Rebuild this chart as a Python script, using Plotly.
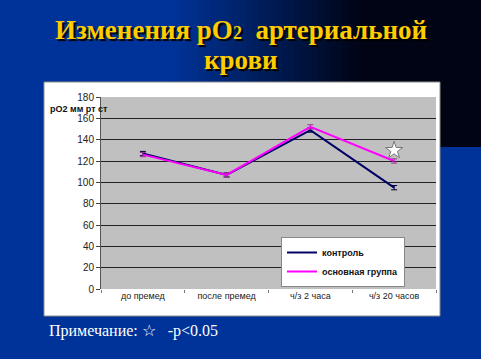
import plotly.graph_objects as go

categories = ["до премед", "после премед", "ч/з 2 часа", "ч/з 20 часов"]
control = [127, 107, 149, 95]
main_group = [126, 107, 152, 120]
control_err = [2, 2, 2, 2]
main_err = [2, 2, 2, 2]
star_cat = ["ч/з 20 часов"]
star_val = [130]
y_ticks = [0, 20, 40, 60, 80, 100, 120, 140, 160, 180]

W, H = 481, 359
L, R, T, B = 101, 436, 97, 289


def px(x):
    return (x - L) / (R - L)


def py(y):
    return (B - y) / (B - T)


fig = go.Figure()
fig.add_trace(go.Scatter(
    x=categories, y=control, name="контроль", mode="lines",
    line=dict(color="#000066", width=2),
    error_y=dict(type="data", array=control_err, color="#000033", thickness=1, width=3),
))
fig.add_trace(go.Scatter(
    x=categories, y=main_group, name="основная группа", mode="lines",
    line=dict(color="#ff00ff", width=2),
    error_y=dict(type="data", array=main_err, color="#993399", thickness=1, width=3),
))
fig.add_trace(go.Scatter(
    x=star_cat, y=star_val, mode="markers", showlegend=False,
    marker=dict(symbol="star", size=13, color="white", line=dict(color="#777777", width=1)),
))

shapes = []
# top band gradient (blue -> black)
blue = (0, 51, 153)
dark = (0, 4, 20)
step = 6
x = 0
while x < W:
    t = min(max((x - 170) / 190, 0), 1)
    c = tuple(int(round(blue[i] * (1 - t) + dark[i] * t)) for i in range(3))
    shapes.append(dict(type="rect", xref="paper", yref="paper",
                       x0=px(x), x1=px(x + step + 1), y0=py(147), y1=py(0),
                       fillcolor="rgb(%d,%d,%d)" % c, line=dict(width=0), layer="below"))
    x += step
# white chart box
shapes.append(dict(type="rect", xref="paper", yref="paper",
                   x0=px(44), x1=px(440), y0=py(316), y1=py(82),
                   fillcolor="white", line=dict(color="#8c8c8c", width=1), layer="below"))
# gray plot area
shapes.append(dict(type="rect", xref="paper", yref="paper",
                   x0=0, x1=1, y0=0, y1=1,
                   fillcolor="#c0c0c0", line=dict(width=0), layer="below"))

title_font = dict(family="Liberation Serif, Times New Roman, serif", size=27,
                  color="#ffcc00", weight="bold", shadow="2px 2px 1px #000000")

annotations = [
    dict(text="Изменения pO<span style='font-size:18px'>2</span>\u00a0\u00a0артериальной",
         xref="paper", yref="paper", x=px(241), y=py(30), xanchor="center", yanchor="middle",
         showarrow=False, font=title_font),
    dict(text="крови",
         xref="paper", yref="paper", x=px(241), y=py(60), xanchor="center", yanchor="middle",
         showarrow=False, font=title_font),
    dict(text="pO2 мм рт ст",
         xref="paper", yref="paper", x=px(48), y=py(109), xanchor="left", yanchor="middle",
         showarrow=False,
         font=dict(family="Arial, Liberation Sans", size=9, color="#111111", weight="bold")),
    dict(text="Примечание: ☆\u00a0\u00a0 -p<0.05",
         xref="paper", yref="paper", x=px(47), y=py(331), xanchor="left", yanchor="middle",
         showarrow=False,
         font=dict(family="Liberation Serif", size=16, color="white")),
]

fig.update_layout(
    width=W, height=H,
    margin=dict(l=L, r=W - R, t=T, b=H - B, pad=0),
    paper_bgcolor="#003399",
    plot_bgcolor="rgba(0,0,0,0)",
    shapes=shapes,
    annotations=annotations,
    showlegend=True,
    legend=dict(x=px(281), y=py(237), xanchor="left", yanchor="top",
                bgcolor="white", bordercolor="#888888", borderwidth=1,
                font=dict(family="Arial, Liberation Sans", size=9, color="#111111", weight="bold"),
                itemwidth=30, tracegroupgap=4),
    xaxis=dict(type="category", categoryorder="array", categoryarray=categories,
               range=[-0.5, 3.5], tickson="boundaries", ticks="outside", ticklen=3,
               tickcolor="#777777", showgrid=False, showline=False, zeroline=False,
               tickfont=dict(family="Arial, Liberation Sans", size=9, color="#222222")),
    yaxis=dict(range=[0, 180], tickvals=y_ticks, ticks="outside", ticklen=4,
               tickcolor="#444444", showline=True, linecolor="#555555", linewidth=1,
               showgrid=True, gridcolor="#222222", gridwidth=1, zeroline=False,
               tickfont=dict(family="Arial, Liberation Sans", size=10, color="#222222")),
)

fig.write_html("out.html", config={"displayModeBar": False},
               post_script="document.body.style.margin='0px';")
